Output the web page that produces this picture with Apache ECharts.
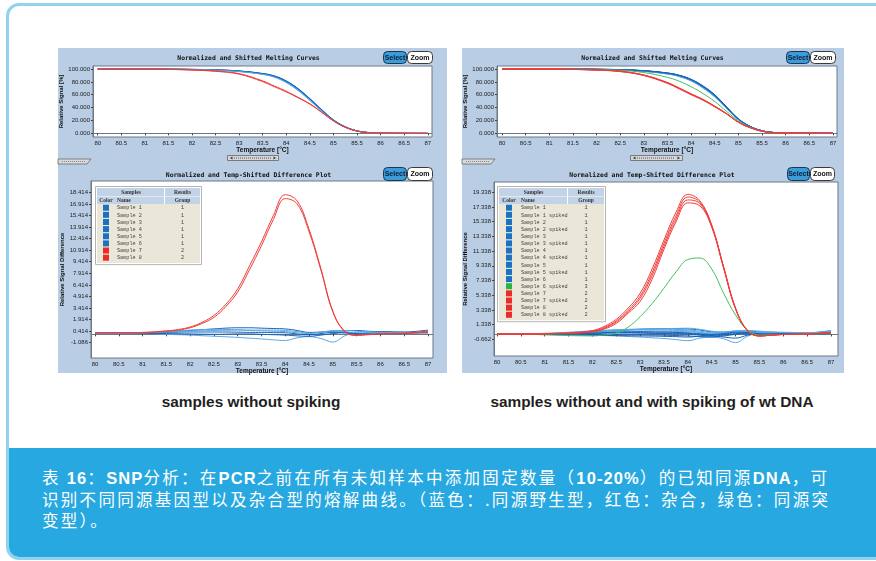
<!DOCTYPE html>
<html><head><meta charset="utf-8">
<script src="https://cdn.jsdelivr.net/npm/echarts@6/dist/echarts.min.js"></script>
<style>
html,body{margin:0;padding:0;background:#fff;width:876px;height:561px;overflow:hidden;position:relative;}
#frame{position:absolute;left:6px;top:3px;width:900px;height:551px;border:3px solid #8fd3ef;border-radius:13px;overflow:hidden;background:#fff;}
#note{position:absolute;left:0;top:442px;width:100%;height:120px;background:#27a8e0;}
#notetext{position:absolute;left:33px;top:19px;color:#fff;font-family:"Noto Sans CJK SC",sans-serif;font-size:16.5px;line-height:21px;letter-spacing:2.3px;white-space:nowrap;}
#notetext b{font-family:"Liberation Sans Narrow","Liberation Sans",sans-serif;font-weight:bold;letter-spacing:1.1px;}
.panel{position:absolute;top:48px;height:325px;background:#b9cde4;}
.cap{position:absolute;top:393px;font:bold 15.4px "Liberation Sans",sans-serif;color:#231f20;white-space:nowrap;transform:translateX(-50%);line-height:18px;}
#chart{position:absolute;left:0;top:0;width:876px;height:561px;}
</style></head>
<body>
<div id="frame"><div id="note"><div id="notetext">表 <b>16</b>：<b>SNP</b>分析：在<b>PCR</b>之前在所有未知样本中添加固定数量（<b>10-20%</b>）的已知同源<b>DNA</b>，可<br>识别不同同源基因型以及杂合型的熔解曲线。（蓝色：.同源野生型，红色：杂合，绿色：同源突<br>变型）。</div></div></div>
<div class="panel" style="left:58px;width:389px;"></div>
<div class="panel" style="left:462px;width:382px;"></div>
<div class="cap" style="left:251px;">samples without spiking</div>
<div class="cap" style="left:652px;">samples without and with spiking of wt DNA</div>
<div id="chart"></div>
<script>
// ---------- data ----------
const xTicks = [80,80.5,81,81.5,82,82.5,83,83.5,84,84.5,85,85.5,86,86.5,87];
const yTicksMelt = [0,20,40,60,80,100];
const yTicksDiffL = [-1.086,0.414,1.914,3.414,4.914,6.414,7.914,9.414,10.914,12.414,13.914,15.414,16.914,18.414];
const yTicksDiffR = [-0.662,1.338,3.338,5.338,7.338,9.338,11.338,13.338,15.338,17.338,19.338];

const meltT = [80,81,81.5,82,82.5,83,83.5,83.75,84,84.25,84.5,84.75,85,85.25,85.5,85.75,86,87];
const diffT = [80,80.5,81,81.5,81.75,82,82.25,82.5,82.75,83,83.25,83.5,83.75,84,84.25,84.5,84.75,85,85.25,85.5,85.75,86,86.5,87];

const namesL = ['Sample 1','Sample 2','Sample 3','Sample 4','Sample 5','Sample 6','Sample 7','Sample 8'];
const groupsL = [1,1,1,1,1,1,2,2];
const namesR = ['Sample 1','Sample 1 spiked','Sample 2','Sample 2 spiked','Sample 3','Sample 3 spiked','Sample 4','Sample 4 spiked','Sample 5','Sample 5 spiked','Sample 6','Sample 6 spiked','Sample 7','Sample 7 spiked','Sample 8','Sample 8 spiked'];
const groupsR = [1,1,1,1,1,1,1,1,1,1,1,3,2,2,2,2];

// left: melting curves
const mL1 = [100,100,99.8,99.4,98.6,96.6,92.5,88.5,80.5,68.5,53.0,36.0,20.5,10.0,3.8,1.2,0.4,0];
const mL2 = [100,100,99.7,99.2,98.3,96.2,92.0,87.6,79.2,67.0,51.5,35.0,20.0,9.6,3.6,1.1,0.3,0];
const mL3 = [100,100,99.8,99.5,98.8,97.0,93.0,89.2,81.5,69.5,54.0,37.0,21.0,10.3,3.9,1.2,0.4,0];
const mL4 = [100,100,99.7,99.3,98.5,96.4,92.2,88.0,80.0,68.0,52.5,35.5,20.2,9.8,3.7,1.1,0.3,0];
const mL5 = [100,100,99.8,99.4,98.7,96.8,92.8,88.8,81.0,69.0,53.5,36.5,20.8,10.1,3.8,1.2,0.4,0];
const mL6 = [100,100,99.6,99.1,98.2,96.0,91.6,87.2,78.8,66.5,51.0,34.6,19.8,9.5,3.5,1.0,0.3,0];
const mL7 = [100,100,99.5,98.6,96.9,92.8,81.5,73.5,65.5,56.0,46.0,33.0,19.5,9.5,3.6,1.1,0.3,0];
const mL8 = [100,100,99.4,98.3,96.4,92.0,80.3,72.3,64.3,55.2,45.3,32.6,19.2,9.3,3.5,1.1,0.3,0];

// left: difference plot
const dL1 = [0.2,0.2,0.2,0.3,0.4,0.5,0.6,0.7,0.8,0.85,0.85,0.8,0.75,0.7,0.5,0.25,0.3,0.4,0.45,0.5,0.4,0.35,0.3,0.55];
const dL2 = [0.2,0.2,0.15,0.0,-0.05,-0.1,-0.18,-0.25,-0.32,-0.4,-0.5,-0.6,-0.72,-0.8,-0.45,-0.3,-0.55,-1.0,-0.2,0.25,0.3,0.25,0.2,0.3];
const dL3 = [0.2,0.2,0.2,0.25,0.28,0.3,0.3,0.3,0.3,0.28,0.25,0.25,0.22,0.2,0.05,-0.05,0.1,0.25,0.2,0.05,0.15,0.3,0.25,0.2];
const dL4 = [0.2,0.2,0.2,0.3,0.35,0.4,0.45,0.5,0.52,0.55,0.5,0.45,0.4,0.35,0.2,0.1,0.3,0.45,0.35,0.15,0.2,0.25,0.2,0.25];
const dL5 = [0.2,0.2,0.15,0.1,0.08,0.05,0.02,0.0,0.02,0.05,0.05,0.0,-0.05,-0.1,-0.2,-0.25,-0.1,0.1,0.2,0.1,0.05,0.1,0.15,0.2];
const dL6 = [0.2,0.2,0.2,0.35,0.45,0.55,0.6,0.65,0.63,0.6,0.55,0.55,0.55,0.5,0.35,0.15,0.25,0.45,0.5,0.4,0.3,0.25,0.2,0.35];
const dL7 = [0.2,0.2,0.25,0.45,0.62,0.95,1.55,2.45,3.9,5.9,8.9,12.0,15.4,18.1,17.3,13.6,8.5,3.0,0.4,-0.1,0.0,0.1,0.15,0.45];
const dL8 = [0.2,0.2,0.22,0.4,0.55,0.85,1.4,2.2,3.6,5.5,8.4,11.5,14.9,17.6,16.9,13.3,8.3,2.9,0.35,-0.15,-0.05,0.05,0.1,0.3];

// right: melting curves
const mR1 = [100,100,99.8,99.5,98.8,97.0,93.2,89.5,83.0,72.5,58.5,40.0,22.0,10.5,3.9,1.2,0.4,0];
const mR2 = [100,100,99.7,99.3,98.5,96.6,92.6,88.7,82.0,71.2,57.2,39.0,21.5,10.2,3.8,1.2,0.4,0];
const mR3 = [100,100,99.8,99.6,99.0,97.3,93.6,90.0,83.6,73.3,59.4,40.8,22.4,10.7,4.0,1.2,0.4,0];
const mR4 = [100,100,99.7,99.4,98.6,96.8,92.9,89.1,82.5,71.8,57.8,39.5,21.8,10.4,3.9,1.2,0.4,0];
const mR5 = [100,100,99.8,99.5,98.9,97.1,93.4,89.8,83.3,72.9,59.0,40.4,22.2,10.6,3.9,1.2,0.4,0];
const mR6 = [100,100,99.6,99.2,98.3,96.3,92.2,88.2,81.4,70.5,56.5,38.6,21.3,10.1,3.7,1.1,0.3,0];
const mR7 = [100,100,99.8,99.5,98.7,96.9,93.1,89.4,82.8,72.2,58.2,39.8,21.9,10.5,3.9,1.2,0.4,0];
const mR8 = [100,100,99.7,99.4,98.7,97.0,93.3,89.6,83.1,72.7,58.7,40.2,22.1,10.5,3.9,1.2,0.4,0];
const mR9 = [100,100,99.8,99.6,99.1,97.5,93.9,90.3,84.0,73.8,60.0,41.3,22.7,10.8,4.0,1.3,0.4,0];
const mR10 = [100,100,99.7,99.3,98.4,96.5,92.4,88.5,81.7,70.9,56.9,38.8,21.4,10.2,3.8,1.1,0.3,0];
const mR11 = [100,100,99.8,99.5,98.8,97.1,93.3,89.7,83.2,72.6,58.6,40.1,22.0,10.5,3.9,1.2,0.4,0];
const mR12 = [100,100,99.7,99.2,98.0,94.5,87.0,81.0,72.5,62.0,49.5,34.0,19.5,9.5,3.6,1.1,0.3,0];
const mR13 = [100,100,99.5,98.6,96.6,90.8,79.0,70.5,61.5,52.8,42.3,30.7,17.6,8.9,3.3,1.0,0.3,0];
const mR14 = [100,100,99.4,98.4,96.3,90.2,78.2,69.6,60.6,52.0,41.6,30.2,17.4,8.8,3.3,1.0,0.3,0];
const mR15 = [100,100,99.5,98.5,96.5,90.5,78.6,70.0,61.0,52.4,42.0,30.5,17.5,8.8,3.3,1.0,0.3,0];
const mR16 = [100,100,99.3,98.2,96.0,89.8,77.6,69.0,60.0,51.5,41.2,30.0,17.2,8.7,3.2,1.0,0.3,0];

// right: difference plot
const dR1 = [0.05,0.05,0.1,0.2,0.28,0.35,0.42,0.5,0.6,0.7,0.75,0.8,0.8,0.75,0.6,0.35,0.3,0.4,0.45,0.35,0.3,0.25,0.2,0.5];
const dR2 = [0.05,0.05,0.05,0.0,-0.05,-0.1,-0.15,-0.2,-0.28,-0.35,-0.45,-0.55,-0.7,-0.85,-0.5,-0.35,-0.6,-1.1,-0.25,0.2,0.25,0.2,0.15,0.3];
const dR3 = [0.05,0.05,0.1,0.15,0.18,0.2,0.22,0.25,0.25,0.25,0.22,0.2,0.18,0.15,0.0,-0.1,0.05,0.2,0.15,0.0,0.1,0.2,0.15,0.1];
const dR4 = [0.05,0.05,0.1,0.25,0.32,0.4,0.48,0.55,0.6,0.62,0.6,0.58,0.55,0.5,0.3,0.1,0.2,0.4,0.35,0.2,0.15,0.2,0.15,0.35];
const dR5 = [0.05,0.05,0.05,0.05,0.02,0.0,-0.02,-0.05,-0.05,-0.05,-0.08,-0.1,-0.15,-0.2,-0.3,-0.35,-0.2,0.0,0.1,0.05,0.0,0.05,0.1,0.15];
const dR6 = [0.05,0.05,0.15,0.3,0.4,0.5,0.58,0.65,0.7,0.75,0.78,0.8,0.82,0.85,0.7,0.45,0.35,0.5,0.55,0.45,0.35,0.3,0.25,0.45];
const dR7 = [0.05,0.05,0.05,0.1,0.12,0.15,0.18,0.2,0.2,0.18,0.15,0.12,0.1,0.05,-0.1,-0.2,-0.1,0.1,0.2,0.1,0.05,0.1,0.05,0.2];
const dR8 = [0.05,0.05,0.1,0.2,0.25,0.3,0.35,0.4,0.42,0.45,0.45,0.42,0.4,0.38,0.25,0.05,0.15,0.35,0.3,0.15,0.1,0.15,0.1,0.25];
const dR9 = [0.05,0.05,0.0,-0.05,-0.08,-0.1,-0.12,-0.15,-0.18,-0.2,-0.22,-0.25,-0.3,-0.35,-0.25,-0.2,-0.35,-0.5,-0.1,0.1,0.1,0.05,0.0,0.1];
const dR10 = [0.05,0.05,0.12,0.25,0.35,0.45,0.52,0.6,0.65,0.68,0.7,0.7,0.68,0.62,0.45,0.25,0.3,0.45,0.4,0.25,0.2,0.25,0.2,0.55];
const dR11 = [0.05,0.05,0.08,0.12,0.15,0.18,0.24,0.3,0.35,0.38,0.35,0.32,0.28,0.22,0.1,0.0,0.1,0.3,0.25,0.1,0.05,0.1,0.05,0.15];
const dR12 = [0.05,0.05,-0.05,-0.15,-0.18,-0.2,-0.05,0.2,1.0,2.42,4.2,6.3,8.5,10.2,10.4,8.9,5.6,2.65,0.6,-0.07,-0.05,0.0,0.05,0.1];
const dR13 = [0.05,0.05,0.1,0.2,0.32,0.52,1.1,2.06,3.6,5.6,8.9,12.85,16.6,19.06,18.2,14.9,9.2,3.6,0.55,-0.2,-0.1,0.0,0.05,0.3];
const dR14 = [0.05,0.05,0.1,0.18,0.28,0.45,0.95,1.85,3.3,5.2,8.4,12.4,16.1,18.7,18.0,14.8,9.1,3.5,0.5,-0.2,-0.1,0.0,0.05,0.25];
const dR15 = [0.05,0.05,0.08,0.15,0.25,0.4,0.85,1.7,3.1,4.9,8.0,12.0,15.7,18.3,17.8,14.7,9.1,3.5,0.5,-0.2,-0.1,0.0,0.05,0.2];
const dR16 = [0.05,0.05,0.08,0.12,0.2,0.35,0.75,1.5,2.9,4.5,7.5,11.6,15.3,17.9,17.5,14.6,9.0,3.5,0.5,-0.2,-0.1,0.0,0.05,0.3];

// ---------- styling / building ----------
const BLUE = '#1b72c4', RED = '#ec2b26', GREEN = '#27b24a';
const blueLines = ['#1560b8','#58a8e4'];
const redLine = '#ef3e3a', greenLine = '#45bf5c';
const groupColor = {1: BLUE, 2: RED, 3: GREEN};

const meltL = [mL1,mL2,mL3,mL4,mL5,mL6,mL7,mL8];
const diffL = [dL1,dL2,dL3,dL4,dL5,dL6,dL7,dL8];
const meltR = [mR1,mR2,mR3,mR4,mR5,mR6,mR7,mR8,mR9,mR10,mR11,mR12,mR13,mR14,mR15,mR16];
const diffR = [dR1,dR2,dR3,dR4,dR5,dR6,dR7,dR8,dR9,dR10,dR11,dR12,dR13,dR14,dR15,dR16];

const FONT = '"Liberation Sans", Arial, sans-serif';
function grid(l,t,w,h){return {left:l,top:t,width:w,height:h,show:true,backgroundColor:'#fff',borderColor:'#6d7986',borderWidth:1};}
function xAx(gi,min,max,gap){
  return {type:'value',gridIndex:gi,min:min,max:max,name:'Temperature [°C]',nameLocation:'middle',nameGap:gap,
    nameTextStyle:{fontSize:6.5,fontWeight:'bold',fontFamily:FONT,color:'#111'},
    axisLine:{show:true,lineStyle:{color:'#6d7986'}},
    axisTick:{show:true,length:2,customValues:xTicks,lineStyle:{color:'#444'}},
    axisLabel:{customValues:xTicks,fontSize:6,fontFamily:FONT,color:'#222',margin:3,formatter:v=>String(v)},
    splitLine:{show:false}};
}
function yAx(gi,min,max,ticks,name,gap){
  return {type:'value',gridIndex:gi,min:min,max:max,name:name,nameLocation:'middle',nameGap:gap,
    nameTextStyle:{fontSize:6,fontWeight:'bold',fontFamily:FONT,color:'#111'},
    axisLine:{show:true,lineStyle:{color:'#6d7986'}},
    axisTick:{show:true,length:2,customValues:ticks,lineStyle:{color:'#444'}},
    axisLabel:{customValues:ticks,fontSize:6,fontFamily:FONT,color:'#222',margin:3,formatter:v=>v.toFixed(3)},
    splitLine:{show:false}};
}
const series = [];
function addSeries(gi, xs, list, groups){
  let bi = 0;
  list.forEach((ys,i)=>{
    const g = groups[i];
    const col = g===1 ? blueLines[(bi++)%2] : (g===2 ? redLine : greenLine);
    series.push({type:'line',xAxisIndex:gi,yAxisIndex:gi,data:xs.map((x,k)=>[x,ys[k]]),
      smooth:0.4,showSymbol:false,symbol:'none',silent:true,
      lineStyle:{width:1,color:col},z:g===1?2:3});
  });
}
addSeries(0, meltT, meltL, groupsL);
addSeries(1, diffT, diffL, groupsL);
addSeries(2, meltT, meltR, groupsR);
addSeries(3, diffT, diffR, groupsR);

// graphics: titles, buttons, scroll thumbs, tabs, tables
const gr = [];
const TITLE_FONT = 'bold 6.4px "DejaVu Sans Mono", monospace';
function txt(x,y,t,font,fill,align){gr.push({type:'text',x:x,y:y,z:100,style:{text:t,font:font,fill:fill||'#111',align:align||'center',verticalAlign:'middle'}});}
function rc(x,y,w,h,fill,stroke,r,lw){gr.push({type:'rect',z:99,shape:{x:x,y:y,width:w,height:h,r:r||0},style:{fill:fill,stroke:stroke||null,lineWidth:lw||1}});}
function button(x,y,w,h,label,filled){
  rc(x+0.5,y+0.5,w,h,filled?'#3c9bd9':'#fff',filled?'#1b3553':'#3a3a3a',4,1);
  txt(x+w/2+0.5,y+h/2+0.8,label,'bold 7px '+FONT,filled?'#0b1d33':'#111');
}
function thumb(x,y,w,h){
  rc(x+0.5,y+0.5,w,h,'#d6d6d6','#7b7b7b',0,1);
  gr.push({type:'line',z:100,shape:{x1:x+7,y1:y+h/2+0.5,x2:x+w-7,y2:y+h/2+0.5},style:{stroke:'#555',lineWidth:1,lineDash:[1,1]}});
  gr.push({type:'polygon',z:100,shape:{points:[[x+3,y+h/2+0.5],[x+5.5,y+1.5],[x+5.5,y+h-0.5]]},style:{fill:'#333'}});
  gr.push({type:'polygon',z:100,shape:{points:[[x+w-2,y+h/2+0.5],[x+w-4.5,y+1.5],[x+w-4.5,y+h-0.5]]},style:{fill:'#333'}});
}
function tab(x,y){
  gr.push({type:'polygon',z:99,shape:{points:[[x,y],[x+33,y],[x+29,y+5],[x,y+5]]},style:{fill:'#d9d9d9',stroke:'#6b6b6b',lineWidth:0.8}});
  gr.push({type:'line',z:100,shape:{x1:x+4,y1:y+2.5,x2:x+27,y2:y+2.5},style:{stroke:'#777',lineWidth:0.8,lineDash:[1,1]}});
}
function table(x,y,cw1,cw2,cw3,names,groups){
  const w = cw1+cw2+cw3, rh = 7.14, n = names.length;
  const h = 16 + n*rh + 2;
  rc(x-1.5,y-1.5,w+3,h+3,'#fff','#b4b4b4',0,1);
  rc(x,y,cw1+cw2-1,8,'#c2d3e7');
  rc(x+cw1+cw2,y,cw3,8,'#c2d3e7');
  rc(x,y+8.5,cw1+cw2-1,7.5,'#c2d3e7');
  rc(x+cw1+cw2,y+8.5,cw3,7.5,'#c2d3e7');
  rc(x,y+16,w,h-16,'#ebe7d8');
  const HF = 'bold 5.5px "Liberation Serif", serif';
  txt(x+(cw1+cw2)/2,y+4.2,'Samples',HF,'#333');
  txt(x+cw1+cw2+cw3/2,y+4.2,'Results',HF,'#333');
  txt(x+cw1/2,y+12.4,'Color',HF,'#333');
  txt(x+cw1+2,y+12.4,'Name',HF,'#333','left');
  txt(x+cw1+cw2+cw3/2,y+12.4,'Group',HF,'#333');
  names.forEach((nm,i)=>{
    const cy = y+19.7+i*rh;
    rc(x+cw1/2-3,cy-3,6,6,groupColor[groups[i]]);
    txt(x+cw1+2,cy+0.3,nm,'5.2px "Liberation Mono", monospace','#444','left');
    txt(x+cw1+cw2+cw3/2,cy+0.3,String(groups[i]),'5.2px "Liberation Mono", monospace','#444');
  });
}
// left panel
txt(248.5,58,'Normalized and Shifted Melting Curves',TITLE_FONT);
txt(248.5,175,'Normalized and Temp-Shifted Difference Plot',TITLE_FONT);
button(383,51,23,12,'Select',true); button(407,51,25,12,'Zoom',false);
button(383,167,23,13,'Select',true); button(407,167,25,13,'Zoom',false);
thumb(227,155,51,5); tab(58,159);
table(97,188,18,50,35,namesL,groupsL);
// right panel
txt(652.5,58,'Normalized and Shifted Melting Curves',TITLE_FONT);
txt(652,175,'Normalized and Temp-Shifted Difference Plot',TITLE_FONT);
button(786,51,23,12,'Select',true); button(810,51,25,12,'Zoom',false);
button(787,167,22,13,'Select',true); button(810,167,24,13,'Zoom',false);
thumb(630,155,52,5); tab(462,159);
table(499,188,20,49,36,namesR,groupsR);

const chart = echarts.init(document.getElementById('chart'), null, {renderer:'canvas'});
chart.setOption({
  animation:false,
  backgroundColor:'transparent',
  grid:[grid(93,66,339,71), grid(91,181,342,177), grid(497,66,340,71), grid(494,182,344,174)],
  xAxis:[xAx(0,79.90,87.09,9), xAx(1,79.916,87.105,8), xAx(2,79.894,87.085,9), xAx(3,79.937,87.147,8)],
  yAxis:[yAx(0,-5.7,104.7,yTicksMelt,'Relative Signal [%]',23),
         yAx(1,-3.07,19.88,yTicksDiffL,'Relative Signal Difference',21),
         yAx(2,-5.7,104.7,yTicksMelt,'Relative Signal [%]',24),
         yAx(3,-2.93,20.74,yTicksDiffR,'Relative Signal Difference',21)],
  series:series,
  graphic:gr
});
</script>
</body></html>
